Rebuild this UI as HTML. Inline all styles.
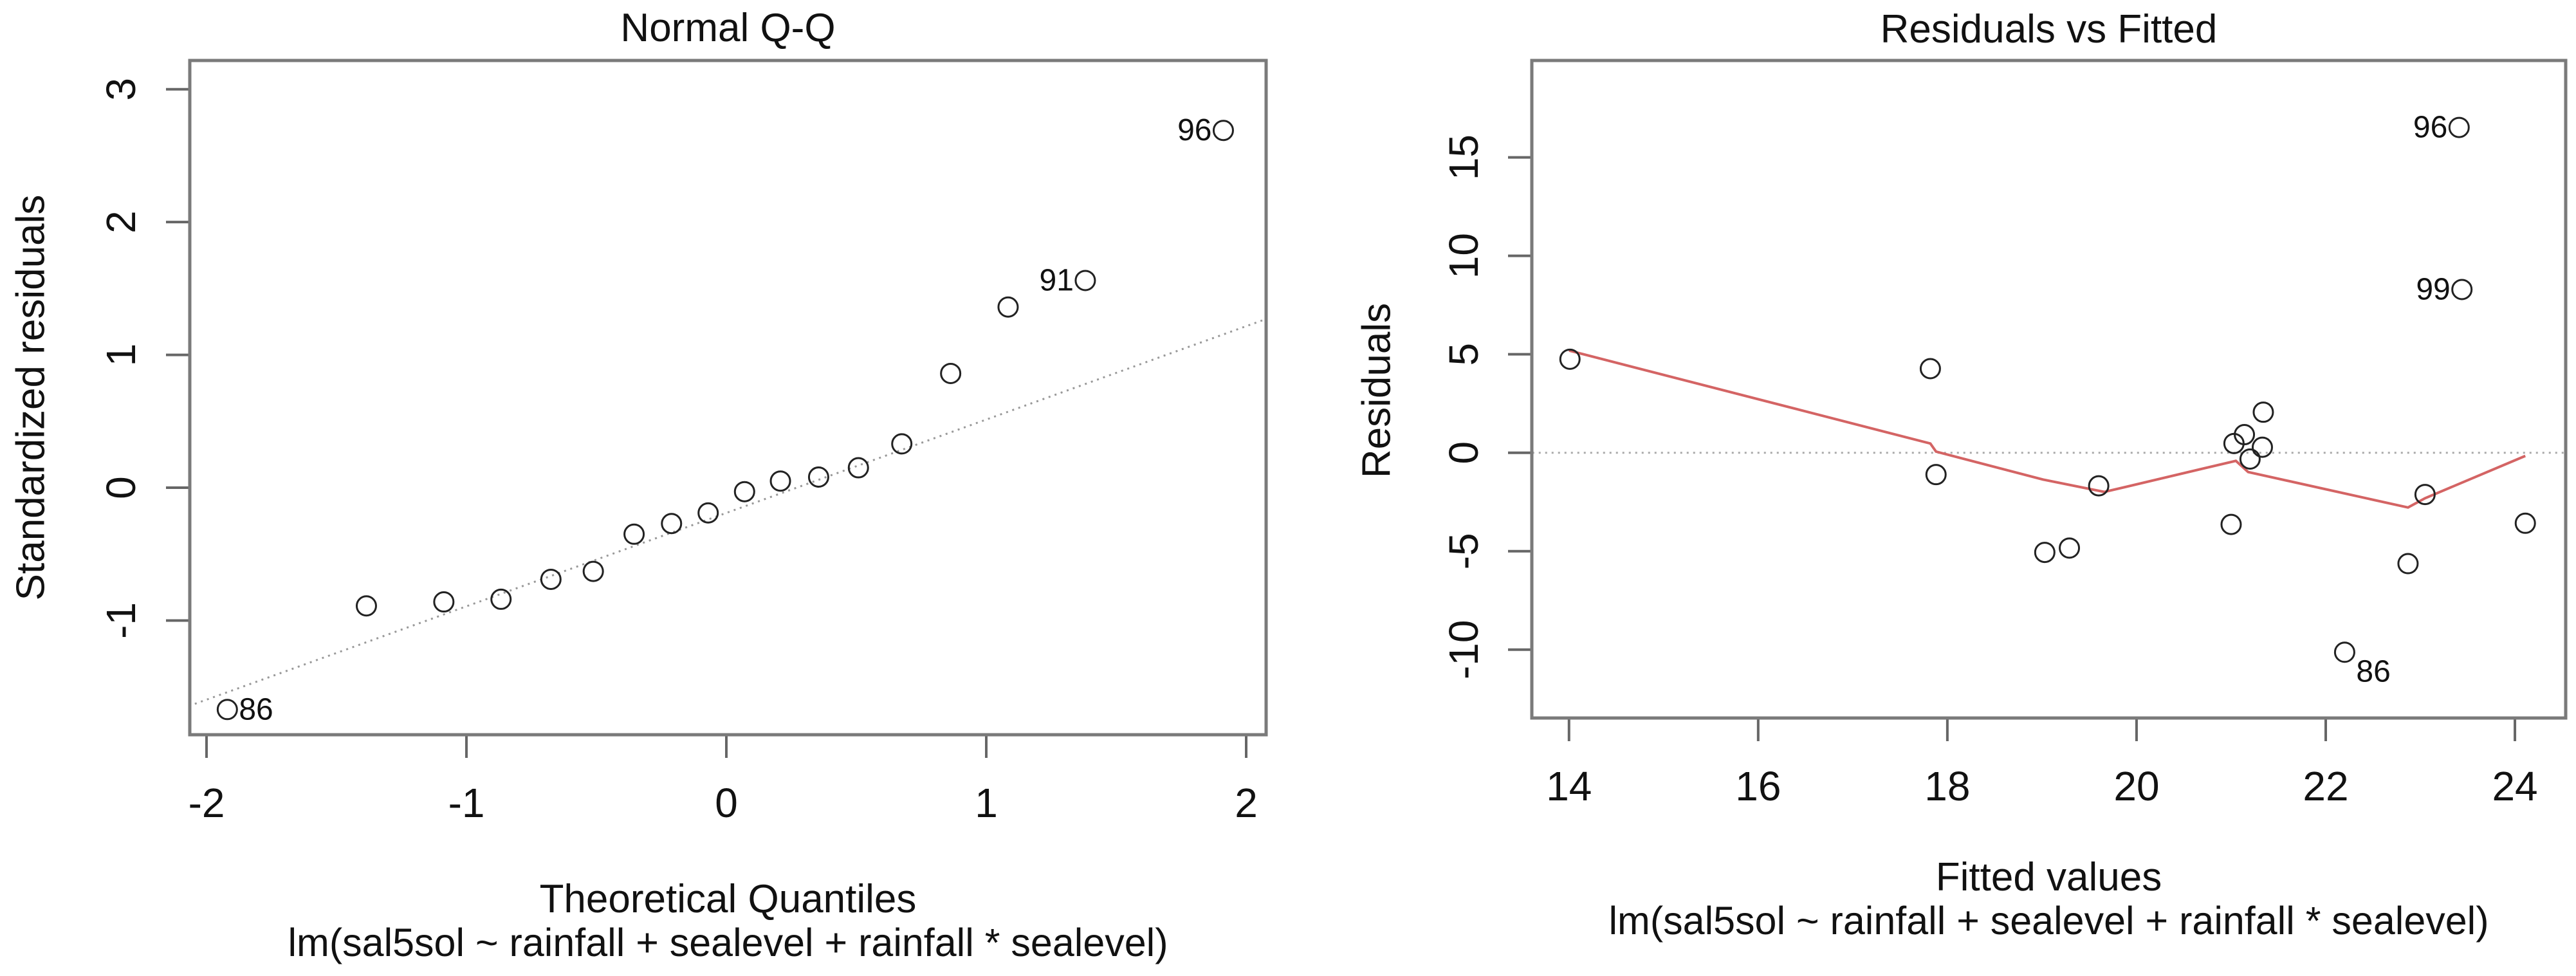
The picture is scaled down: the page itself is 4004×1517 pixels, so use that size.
<!DOCTYPE html>
<html><head><meta charset="utf-8">
<style>
html,body{margin:0;padding:0;background:#fff;}
svg{display:block;}
text{font-family:"Liberation Sans",Arial,sans-serif;fill:#111;}
</style></head>
<body>
<svg id="chart" width="4004" height="1517" viewBox="0 0 4004 1517" xmlns="http://www.w3.org/2000/svg"></svg>
<script>
// ---- Normal Q-Q data ----
const qqTheoretical = [-1.92,-1.385,-1.087,-0.867,-0.675,-0.512,-0.355,-0.211,-0.07,0.07,0.208,0.355,0.508,0.675,0.863,1.084,1.381,1.912];
const qqResiduals = [-1.67,-0.89,-0.86,-0.84,-0.69,-0.63,-0.35,-0.27,-0.19,-0.03,0.05,0.08,0.15,0.33,0.86,1.36,1.56,2.69];
const qqLabels = ["86","","","","","","","","","","","","","","","","91","96"];
const qqLine = [-0.19, 0.703]; // intercept, slope
const qqXTicks = [-2,-1,0,1,2];
const qqYTicks = [-1,0,1,2,3];
// ---- Residuals vs Fitted data ----
const rfFitted = [14.01,17.82,17.88,19.03,19.29,19.60,21.00,21.03,21.14,21.20,21.33,21.34,22.20,22.87,23.05,23.41,23.44,24.11];
const rfResid = [4.75,4.27,-1.11,-5.06,-4.84,-1.68,-3.64,0.47,0.92,-0.32,0.28,2.06,-10.13,-5.63,-2.12,16.52,8.29,-3.58];
const rfLabels = ["","","","","","","","","","","","","86","","","96","99",""];
const smoothX = [14.0,17.82,17.88,19.01,19.66,21.05,21.18,22.87,23.05,24.11];
const smoothY = [5.19,0.47,0.06,-1.36,-1.99,-0.41,-0.98,-2.78,-2.31,-0.16];
const rfXTicks = [14,16,18,20,22,24];
const rfYTicks = [-10,-5,0,5,10,15];

const NS = "http://www.w3.org/2000/svg";
const svg = document.getElementById('chart');
function el(tag, attrs, parent){
  const e = document.createElementNS(NS, tag);
  for (const k in attrs) e.setAttribute(k, attrs[k]);
  (parent||svg).appendChild(e);
  return e;
}
function txt(s, attrs, parent){ const t = el('text', attrs, parent); t.textContent = s; return t; }

function panel(cfg){
  const g = el('g', {});
  
  
  const {L,R,T,B,x0,x1,y0,y1} = cfg;
  const sx = v => L + (v - x0) / (x1 - x0) * (R - L);
  const sy = v => B - (v - y0) / (y1 - y0) * (B - T);
  const tt = txt(cfg.title, {x:(L+R)/2, y:cfg.titleY, 'text-anchor':'middle', 'font-size':62}, g);
  
  
  cfg.xTicks.forEach(v => {
    const ln = el('line', {x1:sx(v), x2:sx(v), y1:B, y2:B+36, stroke:'#666', 'stroke-width':4}, g);
    
    
    const t = txt(String(v), {x:sx(v), y:B+128, 'text-anchor':'middle', 'font-size':64}, g);
    
    
  });
  cfg.yTicks.forEach(v => {
    const ln = el('line', {x1:L-37, x2:L, y1:sy(v), y2:sy(v), stroke:'#666', 'stroke-width':4}, g);
    
    
    const tx = cfg.yLabX, ty = sy(v);
    const t = txt(String(v), {x:tx, y:ty, 'text-anchor':'middle', 'dominant-baseline':'central', 'font-size':64, transform:`rotate(-90 ${tx} ${ty})`}, g);
    
    
  });
  const xl = txt(cfg.xTitle, {x:(L+R)/2, y:cfg.xTitleY, 'text-anchor':'middle', 'font-size':62}, g);
  
  
  const sub = txt('lm(sal5sol ~ rainfall + sealevel + rainfall * sealevel)', {x:(L+R)/2, y:cfg.xTitleY+68, 'text-anchor':'middle', 'font-size':61}, g);
  
  
  const yl = txt(cfg.yTitle, {x:cfg.yTitleX, y:cfg.yTitleY, 'text-anchor':'middle', 'dominant-baseline':'central', 'font-size':62, transform:`rotate(-90 ${cfg.yTitleX} ${cfg.yTitleY})`}, g);
  
  
  const cp = el('clipPath', {id:cfg.name+'-clip'}, g);
  el('rect', {x:L, y:T, width:R-L, height:B-T}, cp);
  const inner = el('g', {'clip-path':`url(#${cfg.name}-clip)`}, g);
  cfg.draw(inner, sx, sy);
  const box = el('rect', {x:L, y:T, width:R-L, height:B-T, fill:'none', stroke:'#7a7a7a', 'stroke-width':5}, g);
  
  
  cfg.xs.forEach((xv, i) => {
    const c = el('circle', {cx:sx(xv), cy:sy(cfg.ys[i]), r:15, fill:'none', stroke:'#222', 'stroke-width':3}, g);
    
    
    const lab = cfg.labels[i];
    if (lab) {
      const right = cfg.labelRight(lab);
      const t = txt(lab, {x: sx(xv) + (right ? 18 : -18), y: sy(cfg.ys[i]) + (right && cfg.name==='residuals-vs-fitted-panel' ? 30 : 0), 'text-anchor': right ? 'start' : 'end', 'dominant-baseline':'central', 'font-size':48, fill:'#333'}, g);
      
      
    }
  });
}

panel({
  name:'normal-qq-panel', title:'Normal Q-Q', titleY:64,
  L:295, R:1968, T:94, B:1142,
  x0:-2.0644, x1:2.0767, y0:-1.86, y1:3.2165,
  xTicks:qqXTicks, yTicks:qqYTicks, yLabX:188,
  xTitle:'Theoretical Quantiles', xTitleY:1418,
  yTitle:'Standardized residuals', yTitleX:48, yTitleY:618,
  xs:qqTheoretical, ys:qqResiduals, labels:qqLabels,
  labelRight: l => l === '86',
  draw:(g, sx, sy) => {
    const a = -3, b = 3;
    const ln = el('line', {x1:sx(a), y1:sy(qqLine[0]+qqLine[1]*a), x2:sx(b), y2:sy(qqLine[0]+qqLine[1]*b), stroke:'#999', 'stroke-width':3, 'stroke-dasharray':'3 7'}, g);
    
    
  }
});

panel({
  name:'residuals-vs-fitted-panel', title:'Residuals vs Fitted', titleY:66,
  L:2381, R:3988, T:94, B:1116,
  x0:13.607, x1:24.537, y0:-13.47, y1:19.92,
  xTicks:rfXTicks, yTicks:rfYTicks, yLabX:2275,
  xTitle:'Fitted values', xTitleY:1384,
  yTitle:'Residuals', yTitleX:2140, yTitleY:607,
  xs:rfFitted, ys:rfResid, labels:rfLabels,
  labelRight: l => l === '86',
  draw:(g, sx, sy) => {
    const z = el('line', {x1:sx(13), y1:sy(0), x2:sx(25), y2:sy(0), stroke:'#aaa', 'stroke-width':3, 'stroke-dasharray':'3 7'}, g);
    
    
    const pts = smoothX.map((v,i) => sx(v)+','+sy(smoothY[i])).join(' ');
    const p = el('polyline', {points:pts, fill:'none', stroke:'#d46464', 'stroke-width':4}, g);
    
    
  }
});
</script>
</body></html>
